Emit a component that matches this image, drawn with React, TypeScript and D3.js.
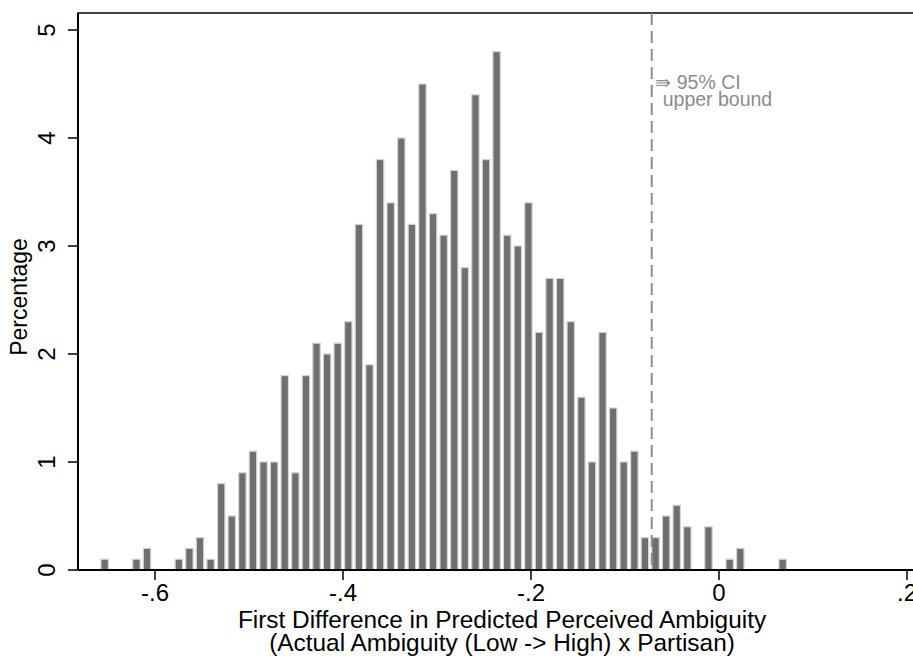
import React, { useRef, useEffect } from 'react';
import * as d3 from 'd3';

// histogram percentages, one per bin (bins of equal width, left to right)
const binStart = -0.6592;
const binWidth = 0.01127;
const percents = [
  0.1, 0, 0, 0.1, 0.2, 0, 0, 0.1, 0.2, 0.3, 0.1, 0.8, 0.5, 0.9, 1.1, 1.0,
  1.0, 1.8, 0.9, 1.8, 2.1, 2.0, 2.1, 2.3, 3.2, 1.9, 3.8, 3.4, 4.0, 3.2, 4.5,
  3.3, 3.1, 3.7, 2.8, 4.4, 3.8, 4.8, 3.1, 3.0, 3.4, 2.2, 2.7, 2.7, 2.3, 1.6,
  1.0, 2.2, 1.5, 1.0, 1.1, 0.3, 0.3, 0.5, 0.6, 0.4, 0, 0.4, 0, 0.1, 0.2, 0,
  0, 0, 0.1,
];

const xTicks = [-0.6, -0.4, -0.2, 0, 0.2];
const xTickLabels = ['-.6', '-.4', '-.2', '0', '.2'];
const yTicks = [0, 1, 2, 3, 4, 5];
const ciUpper = -0.0716;

function App() {
  const ref = useRef<SVGSVGElement | null>(null);

  useEffect(() => {
    const width = 913;
    const height = 657;
    const font = '"Liberation Sans", Arial, Helvetica, sans-serif';

    const svg = d3.select(ref.current);
    svg.selectAll('*').remove();
    svg.attr('width', width).attr('height', height);

    const x = d3.scaleLinear().domain([-0.6, 0.2]).range([155, 907]);
    const y = d3.scaleLinear().domain([0, 5]).range([570, 30]);

    const left = 78;
    const top = 13;

    // plot region outline (right side runs off the picture)
    svg.append('rect')
      .attr('x', left)
      .attr('y', top)
      .attr('width', width + 20 - left)
      .attr('height', y(0) - top)
      .attr('fill', 'white')
      .attr('stroke', 'black')
      .attr('stroke-width', 1.5);

    const bins = percents.map((v, i) => ({
      x0: binStart + i * binWidth,
      x1: binStart + (i + 1) * binWidth,
      v,
    })).filter(d => d.v > 0);

    svg.append('g')
      .selectAll('rect')
      .data(bins)
      .join('rect')
      .attr('x', d => x(d.x0) + 1.6)
      .attr('width', d => x(d.x1) - x(d.x0) - 3.2)
      .attr('y', d => y(d.v))
      .attr('height', d => y(0) - y(d.v))
      .attr('fill', '#6f6f6f')
      .attr('stroke', '#d4d4d4')
      .attr('stroke-width', 1.2);

    // CI line
    svg.append('line')
      .attr('x1', x(ciUpper))
      .attr('x2', x(ciUpper))
      .attr('y1', top)
      .attr('y2', y(0))
      .attr('stroke', '#8c8c8c')
      .attr('stroke-width', 2)
      .attr('stroke-dasharray', '12,6');

    const note = svg.append('g')
      .attr('fill', '#8c8c8c')
      .attr('font-family', font)
      .attr('font-size', 19.5);
    note.append('text')
      .attr('x', x(ciUpper) + 3)
      .attr('y', 89)
      .attr('font-size', 19)
      .text('⇛');
    note.append('text')
      .attr('x', x(ciUpper) + 25)
      .attr('y', 89)
      .text('95% CI');
    note.append('text')
      .attr('x', x(ciUpper) + 11)
      .attr('y', 106)
      .text('upper bound');

    // x axis
    const xAxis = svg.append('g');
    xAxis.append('line')
      .attr('x1', left)
      .attr('x2', width)
      .attr('y1', y(0))
      .attr('y2', y(0))
      .attr('stroke', 'black')
      .attr('stroke-width', 2);
    xAxis.selectAll('line.tick')
      .data(xTicks)
      .join('line')
      .attr('class', 'tick')
      .attr('x1', d => x(d))
      .attr('x2', d => x(d))
      .attr('y1', y(0))
      .attr('y2', y(0) + 10)
      .attr('stroke', 'black')
      .attr('stroke-width', 1.5);
    xAxis.selectAll('text')
      .data(xTicks)
      .join('text')
      .attr('x', d => x(d))
      .attr('y', 601)
      .attr('text-anchor', 'middle')
      .attr('font-family', font)
      .attr('font-size', 24)
      .text((d, i) => xTickLabels[i]);

    // y axis
    const yAxis = svg.append('g');
    yAxis.append('line')
      .attr('x1', left)
      .attr('x2', left)
      .attr('y1', top)
      .attr('y2', y(0))
      .attr('stroke', 'black')
      .attr('stroke-width', 2);
    yAxis.selectAll('line.tick')
      .data(yTicks)
      .join('line')
      .attr('class', 'tick')
      .attr('x1', left - 10)
      .attr('x2', left)
      .attr('y1', d => y(d))
      .attr('y2', d => y(d))
      .attr('stroke', 'black')
      .attr('stroke-width', 1.5);
    yAxis.selectAll('text')
      .data(yTicks)
      .join('text')
      .attr('transform', d => `translate(55, ${y(d)}) rotate(-90)`)
      .attr('text-anchor', 'middle')
      .attr('font-family', font)
      .attr('font-size', 24)
      .text(d => String(d));

    // titles
    svg.append('text')
      .attr('transform', 'translate(27, 297) rotate(-90)')
      .attr('text-anchor', 'middle')
      .attr('font-family', font)
      .attr('font-size', 23)
      .text('Percentage');

    const xt = svg.append('text')
      .attr('text-anchor', 'middle')
      .attr('font-family', font)
      .attr('font-size', 24.4);
    xt.append('tspan')
      .attr('x', 502)
      .attr('y', 628)
      .text('First Difference in Predicted Perceived Ambiguity');
    xt.append('tspan')
      .attr('x', 502)
      .attr('y', 651)
      .text('(Actual Ambiguity (Low -> High) x Partisan)');
  }, []);

  return (
    <div style={{ position: 'absolute', left: 0, top: 0 }}>
      <svg ref={ref}></svg>
    </div>
  );
}

export default App;
